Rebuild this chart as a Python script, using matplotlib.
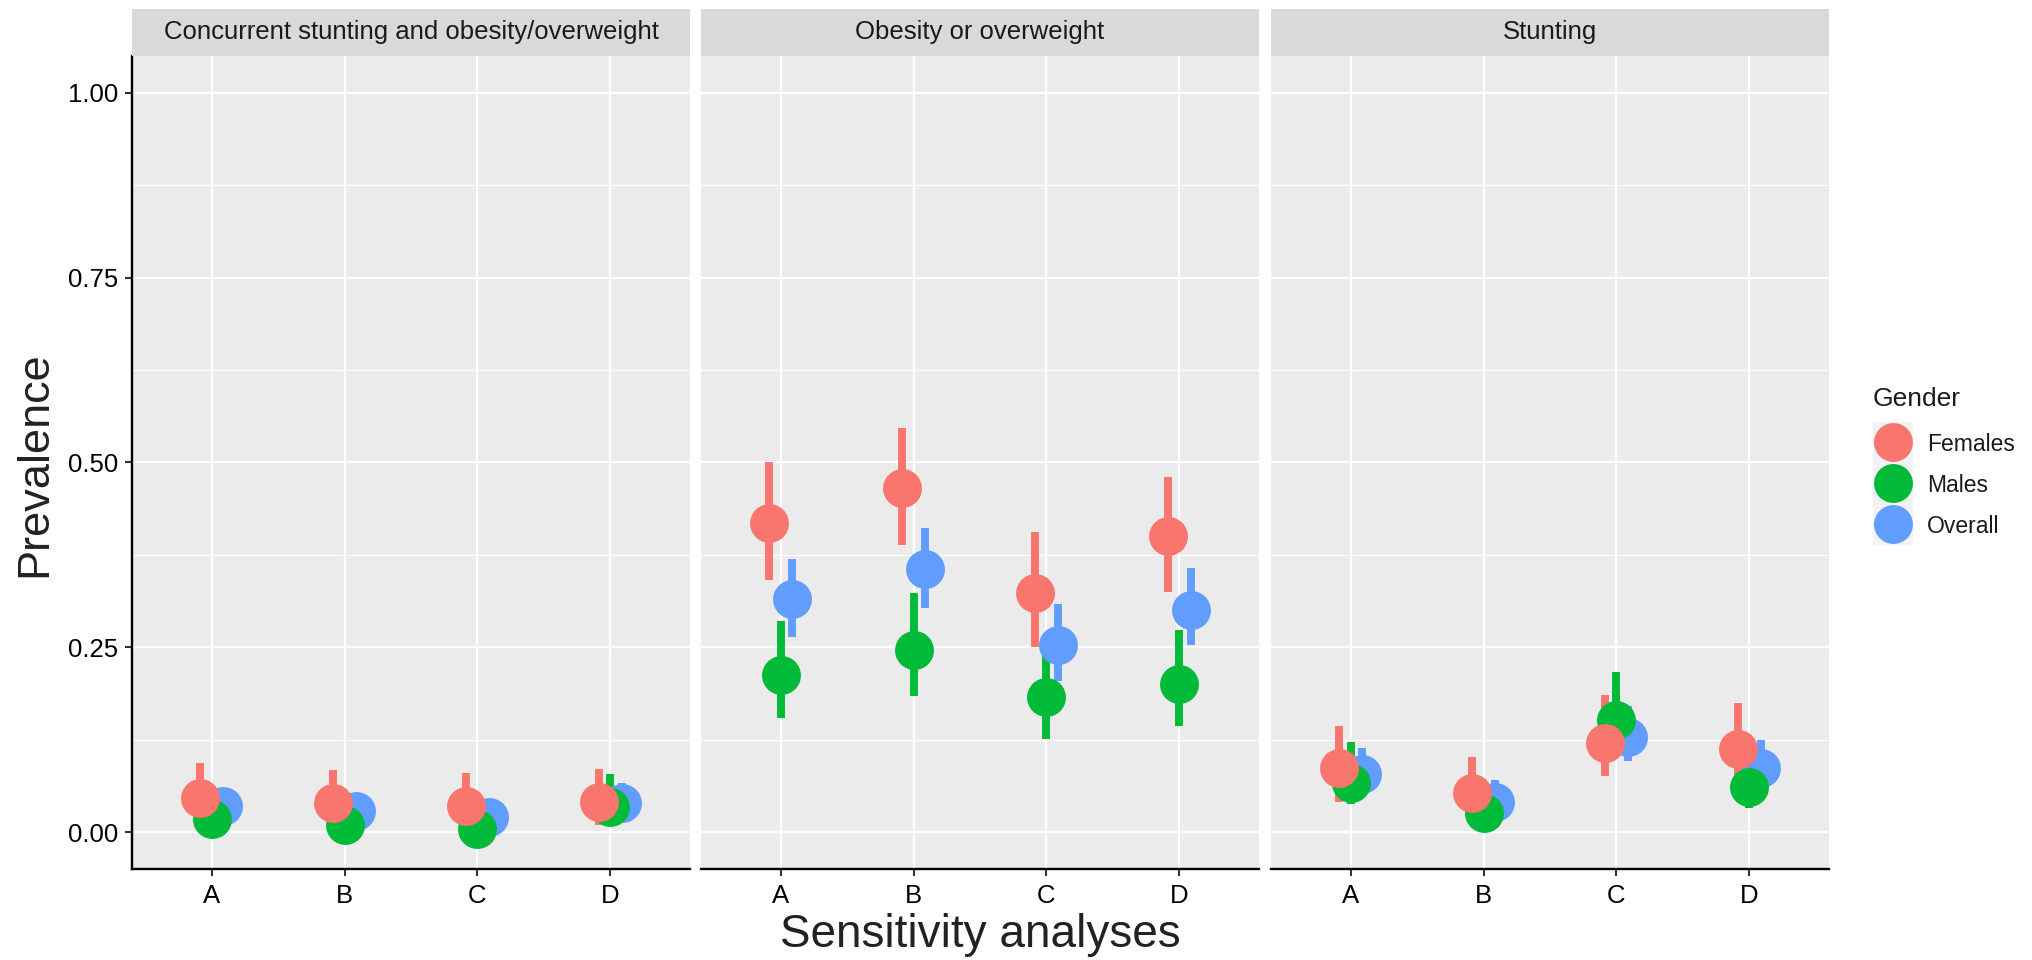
import numpy as np
import matplotlib
matplotlib.use("Agg")
import matplotlib.pyplot as plt
from matplotlib.patches import Rectangle

plt.rcParams['font.family'] = ['Liberation Sans', 'DejaVu Sans']

### Data
categories = ['A', 'B', 'C', 'D']
panels = ['Concurrent stunting and obesity/overweight', 'Obesity or overweight', 'Stunting']
groups = ['Females', 'Males', 'Overall']
colors = {'Females': '#F8766D', 'Males': '#00BA38', 'Overall': '#619CFF'}

# concurrent stunting and obesity/overweight
conc_est = {'Females': [0.046, 0.039, 0.035, 0.040],
            'Males':   [0.018, 0.010, 0.004, 0.034],
            'Overall': [0.035, 0.028, 0.021, 0.039]}
conc_lo = {'Females': [0.010, 0.008, 0.006, 0.010],
           'Males':   [0.004, 0.002, 0.000, 0.012],
           'Overall': [0.018, 0.014, 0.010, 0.022]}
conc_hi = {'Females': [0.094, 0.084, 0.080, 0.085],
           'Males':   [0.040, 0.030, 0.022, 0.078],
           'Overall': [0.055, 0.045, 0.036, 0.066]}

# obesity or overweight
obes_est = {'Females': [0.418, 0.466, 0.324, 0.401],
            'Males':   [0.212, 0.246, 0.183, 0.200],
            'Overall': [0.315, 0.356, 0.253, 0.301]}
obes_lo = {'Females': [0.341, 0.389, 0.251, 0.325],
           'Males':   [0.154, 0.184, 0.126, 0.143],
           'Overall': [0.264, 0.303, 0.205, 0.253]}
obes_hi = {'Females': [0.500, 0.547, 0.406, 0.480],
           'Males':   [0.286, 0.323, 0.250, 0.273],
           'Overall': [0.370, 0.412, 0.308, 0.357]}

# stunting
stun_est = {'Females': [0.086, 0.053, 0.121, 0.113],
            'Males':   [0.067, 0.026, 0.152, 0.061],
            'Overall': [0.078, 0.040, 0.128, 0.087]}
stun_lo = {'Females': [0.040, 0.020, 0.076, 0.062],
           'Males':   [0.038, 0.010, 0.105, 0.033],
           'Overall': [0.050, 0.022, 0.096, 0.055]}
stun_hi = {'Females': [0.143, 0.101, 0.186, 0.174],
           'Males':   [0.122, 0.055, 0.217, 0.105],
           'Overall': [0.114, 0.070, 0.170, 0.125]}

panel_data = [(conc_est, conc_lo, conc_hi),
              (obes_est, obes_lo, obes_hi),
              (stun_est, stun_lo, stun_hi)]

yticks = [0.00, 0.25, 0.50, 0.75, 1.00]

### Layout (pixels of a 2033x960 canvas)
W, H = 2033, 960
fig = plt.figure(figsize=(W / 100, H / 100), dpi=100)

def fx(px):
    return px / W

def fy(py):
    return 1 - py / H

panel_left = [132, 701, 1271]
panel_w = 558
panel_top, panel_bot = 56, 869
strip_top = 9

dodge = {'Females': -0.085, 'Males': 0.0, 'Overall': 0.085}
zorders = {'Overall': 3, 'Males': 4, 'Females': 5}

for i, (title, (est, lo, hi)) in enumerate(zip(panels, panel_data)):
    ax = fig.add_axes([fx(panel_left[i]), fy(panel_bot), panel_w / W, (panel_bot - panel_top) / H])
    ax.set_facecolor('#EBEBEB')
    ax.set_xlim(0.4, 4.6)
    ax.set_ylim(-0.05, 1.05)
    ax.set_axisbelow(True)

    ax.set_xticks(np.arange(1, 5))
    ax.set_xticklabels(categories)
    ax.set_yticks(yticks)
    ax.set_yticks([0.125, 0.375, 0.625, 0.875], minor=True)
    ax.grid(which='major', color='white', lw=1.6)
    ax.grid(which='minor', axis='y', color='white', lw=0.8)
    ax.tick_params(which='minor', length=0)
    ax.tick_params(axis='x', length=5, width=1.5, color='#333333', labelsize=18.5,
                   labelcolor='black', pad=6)

    for s in ['top', 'right']:
        ax.spines[s].set_visible(False)
    ax.spines['bottom'].set_color('black')
    ax.spines['bottom'].set_linewidth(1.7)
    if i == 0:
        ax.set_yticklabels(['%.2f' % v for v in yticks])
        ax.spines['left'].set_color('black')
        ax.spines['left'].set_linewidth(1.7)
        ax.tick_params(axis='y', length=5, width=1.5, color='#333333', labelsize=18.5,
                       labelcolor='black', pad=5)
    else:
        ax.spines['left'].set_visible(False)
        ax.tick_params(axis='y', length=0, labelleft=False)

    x = np.arange(1, 5)
    # error bars first, then points (females on top)
    for g in groups:
        ax.vlines(x + dodge[g], lo[g], hi[g], color=colors[g], lw=5.7,
                  capstyle='butt', zorder=2)
    for g in ['Overall', 'Males', 'Females']:
        ax.scatter(x + dodge[g], est[g], s=784, color=colors[g], linewidths=0,
                   zorder=zorders[g])

    # facet strip
    sax = fig.add_axes([fx(panel_left[i]), fy(panel_top), panel_w / W, (panel_top - strip_top) / H])
    sax.set_facecolor('#D9D9D9')
    sax.set_xticks([])
    sax.set_yticks([])
    for s in sax.spines.values():
        s.set_visible(False)
    sax.text(0.5, 0.5, title, ha='center', va='center', fontsize=18.5, color='#1A1A1A',
             transform=sax.transAxes)

### Axis titles
fig.text(fx(35), fy(464), 'Prevalence', rotation=90, ha='center', va='center',
         fontsize=32.5, color='#222222')
fig.text(fx(980), fy(947), 'Sensitivity analyses', ha='center', va='baseline',
         fontsize=33, color='#222222')

### Legend
lax = fig.add_axes([0, 0, 1, 1])
lax.set_xlim(0, W)
lax.set_ylim(H, 0)
lax.axis('off')
lax.text(1873, 406, 'Gender', ha='left', va='baseline', fontsize=19, color='#1A1A1A')
key_y = [442, 483, 524]
for g, ky in zip(groups, key_y):
    lax.add_patch(Rectangle((1873, ky - 20.5), 40, 41, facecolor='#F2F2F2', edgecolor='none'))
    lax.scatter([1893], [ky], s=784, color=colors[g], linewidths=0)
    lax.text(1927, ky + 9, g, ha='left', va='baseline', fontsize=16.5, color='#1A1A1A')

fig.savefig('out.png', dpi=100)
